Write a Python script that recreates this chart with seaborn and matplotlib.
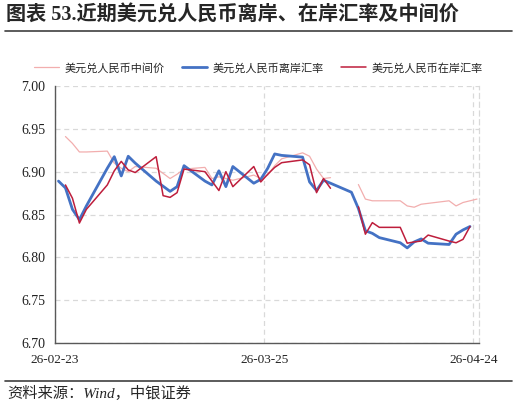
import pandas as pd
import numpy as np
import matplotlib
matplotlib.use("Agg")
import matplotlib.pyplot as plt
from matplotlib.lines import Line2D
import seaborn as sns

# 交易日（周一至周五）
dates = [
    "2026-02-23", "2026-02-24", "2026-02-25", "2026-02-26", "2026-02-27",
    "2026-03-02", "2026-03-03", "2026-03-04", "2026-03-05", "2026-03-06",
    "2026-03-09", "2026-03-10", "2026-03-11", "2026-03-12", "2026-03-13",
    "2026-03-16", "2026-03-17", "2026-03-18", "2026-03-19", "2026-03-20",
    "2026-03-23", "2026-03-24", "2026-03-25", "2026-03-26", "2026-03-27",
    "2026-03-30", "2026-03-31", "2026-04-01", "2026-04-02", "2026-04-03",
    "2026-04-06", "2026-04-07", "2026-04-08", "2026-04-09", "2026-04-10",
    "2026-04-13", "2026-04-14", "2026-04-15", "2026-04-16", "2026-04-17",
    "2026-04-20", "2026-04-21", "2026-04-22", "2026-04-23", "2026-04-24",
]

# 美元兑人民币中间价
mid = [
    None, 6.941, 6.933, 6.923, 6.923,
    6.924, 6.910, 6.904, 6.900, 6.906,
    6.904, 6.898, 6.892, 6.897, 6.903,
    6.905, 6.892, 6.894, 6.892, 6.890,
    6.896, 6.892, 6.896, 6.907, 6.915,
    6.922, 6.918, 6.903, 6.892, 6.893,
    None, 6.885, 6.868, 6.866, 6.866,
    6.866, 6.860, 6.8585, 6.862, 6.863,
    6.866, 6.860, 6.864, 6.866, 6.868,
]

# 美元兑人民币离岸汇率
cnh = [
    6.889, 6.881, 6.856, 6.844, 6.860,
    6.904, 6.9175, 6.895, 6.918, 6.910,
    6.889, 6.883, 6.877, 6.8825, 6.907,
    6.889, 6.8845, 6.901, 6.8825, 6.906,
    6.8865, 6.891, 6.904, 6.9207, 6.919,
    6.917, 6.888, 6.878, 6.890, None,
    6.876, 6.857, 6.831, 6.828, 6.823,
    6.817, 6.811, 6.818, 6.8215, 6.8165,
    6.815, 6.827, 6.832, 6.836, None,
]

# 美元兑人民币在岸汇率
cny = [
    None, 6.8845, 6.869, 6.840, 6.856,
    6.8845, 6.901, 6.912, 6.902, 6.899,
    6.9175, 6.872, 6.870, 6.8755, 6.903,
    6.900, 6.889, 6.878, 6.900, 6.8825,
    6.906, 6.888, 6.897, 6.905, 6.9105,
    6.9137, 6.908, 6.8755, 6.892, 6.8806,
    None, 6.859, 6.827, 6.8405, 6.835,
    6.835, 6.8165, 6.818, 6.819, 6.826,
    6.819, 6.817, 6.821, 6.836, None,
]

tick_dates = ["2026-02-23", "2026-03-25", "2026-04-24"]
tick_labels = ["26-02-23", "26-03-25", "26-04-24"]

names = ["美元兑人民币中间价", "美元兑人民币离岸汇率", "美元兑人民币在岸汇率"]
colors = ["#F2AEAE", "#4472C4", "#BE1E3C"]
widths = [0.9, 2.0, 1.1]

CJK = ["Noto Sans CJK SC", "DejaVu Sans"]
SERIF_CJK = ["Liberation Serif", "Noto Sans CJK SC"]


def series_frame(values, keep_gaps):
    s = pd.DataFrame({"date": pd.to_datetime(dates), "value": pd.Series(values, dtype=float)})
    if keep_gaps:
        # 缺失值处断开
        s["seg"] = s["value"].isna().cumsum()
    else:
        s["seg"] = 0
    return s.dropna(subset=["value"])


sns.set_style("white")
plt.rcParams["font.family"] = SERIF_CJK

fig = plt.figure(figsize=(5.17, 4.07), dpi=100)
ax = fig.add_axes([55 / 517, 1 - 343 / 407, (479 - 55) / 517, (343 - 86) / 407])

frames = [series_frame(mid, True), series_frame(cnh, False), series_frame(cny, True)]
for df, c, lw in zip(frames, colors, widths):
    sns.lineplot(data=df, x="date", y="value", units="seg", estimator=None,
                 color=c, linewidth=lw, ax=ax)

ax.set_xlim(pd.Timestamp("2026-02-22 12:00"), pd.Timestamp("2026-04-24 07:00"))
ax.set_ylim(6.70, 7.00)
ax.set_yticks(np.arange(6.70, 7.001, 0.05))
ax.set_yticklabels([f"{v:.2f}" for v in np.arange(6.70, 7.001, 0.05)], fontsize=10)
xt = [pd.Timestamp(d) - pd.Timedelta(hours=12) for d in tick_dates]
ax.set_xticks(xt)
ax.set_xticklabels(tick_labels, fontsize=9.5)
ax.set_xlabel("")
ax.set_ylabel("")

ax.grid(True, axis="both", color="#D9D9D9", linestyle=(0, (4, 3)), linewidth=0.9)
ax.set_axisbelow(True)
for side in ["left", "bottom"]:
    ax.spines[side].set_color("#595959")
    ax.spines[side].set_linewidth(1.0)
ax.spines["top"].set_visible(False)
ax.spines["right"].set_color("#D9D9D9")
ax.spines["right"].set_linestyle((0, (4, 3)))
ax.spines["right"].set_linewidth(0.9)
ax.tick_params(axis="y", direction="out", length=4, color="#595959", pad=3, labelcolor="#222222")
ax.tick_params(axis="x", direction="out", length=3, color="#595959", pad=5, labelcolor="#222222")

handles = [Line2D([], [], color=c, linewidth=lw) for c, lw in zip(colors, widths)]
fig.legend(handles, names, loc="center", bbox_to_anchor=(0.5, 1 - 68 / 407), ncol=3,
           frameon=False, prop={"family": CJK, "size": 8}, handlelength=2.2,
           handletextpad=0.5, columnspacing=1.6)

fig.text(0.012, 1 - 16 / 407, "图表 53.近期美元兑人民币离岸、在岸汇率及中间价",
         fontsize=14.5, fontweight="bold", family=SERIF_CJK, va="center", ha="left")
fig.add_artist(Line2D([5 / 517, 512 / 517], [1 - 31 / 407] * 2, color="#404040", linewidth=1.2))
fig.add_artist(Line2D([5 / 517, 512 / 517], [1 - 380.5 / 407] * 2, color="#404040", linewidth=1.2))
fig.text(0.014, 1 - 393 / 407, "资料来源：Wind，中银证券", fontsize=11, style="italic",
         family=SERIF_CJK, va="center", ha="left")

fig.savefig("out.png", dpi=100)
